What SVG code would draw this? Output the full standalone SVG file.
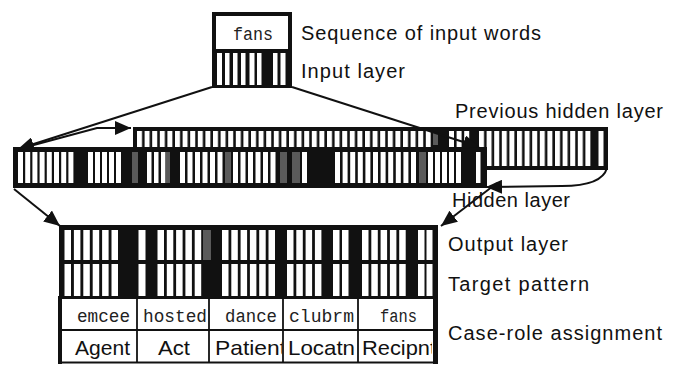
<svg xmlns="http://www.w3.org/2000/svg" width="675" height="366" viewBox="0 0 675 366">
<style>
.lbl{font-family:"Liberation Sans",Arial,sans-serif;font-size:20px;fill:#111}
.mono{font-family:"Liberation Mono","Courier New",monospace;font-size:19px;fill:#222}
.role{font-family:"Liberation Sans",Arial,sans-serif;font-size:21px;fill:#111}
.blk{fill:#111}
.w{fill:#fff}
.g{fill:#5a5a5a}
.conn{fill:none;stroke:#111;stroke-width:2}
.cell{fill:none;stroke:#111;stroke-width:1.8}
</style>
<defs>
<marker id="ah" markerUnits="userSpaceOnUse" markerWidth="18" markerHeight="14" refX="16" refY="7" orient="auto">
<path d="M0,0 L16,7 L0,14 Z" fill="#111"/>
</marker>
<pattern id="pPrev" patternUnits="userSpaceOnUse" x="137" y="0" width="7.6" height="366">
<rect x="0" y="0" width="5" height="366" fill="#fff"/>
</pattern>
<clipPath id="c3"><rect x="209" y="330" width="73" height="33"/></clipPath>
<clipPath id="c5"><rect x="358" y="330" width="74" height="33"/></clipPath>
</defs>

<g id="input">
<rect x="212" y="12" width="80" height="76" class="blk"/>
<rect x="216" y="16" width="72" height="33" class="w"/>
<text x="233" y="40" class="mono" textLength="40" lengthAdjust="spacingAndGlyphs">fans</text>
<rect x="217" y="53" width="5" height="32" class="w"/>
<rect x="225" y="53" width="4.5" height="32" class="w"/>
<rect x="233" y="53" width="4.5" height="32" class="w"/>
<rect x="241" y="53" width="4.5" height="32" class="w"/>
<rect x="249.5" y="53" width="5" height="32" class="w"/>
<rect x="257" y="53" width="4.5" height="32" class="w"/>
<rect x="273" y="53" width="4.5" height="32" class="w"/>
<rect x="280.5" y="53" width="5" height="32" class="w"/>
</g>

<g id="previous-hidden">
<rect x="133" y="127" width="475" height="43" class="blk"/>
<rect x="137" y="131" width="294" height="35" fill="url(#pPrev)"/>
<rect x="449" y="131" width="5" height="35" class="w"/>
<rect x="456.6" y="131" width="5" height="35" class="w"/>
<rect x="464.2" y="131" width="5" height="35" class="w"/>
<rect x="433" y="133" width="5" height="12" class="g"/>
<rect x="479" y="131" width="112" height="35" fill="url(#pPrev)"/>
<rect x="598.5" y="131" width="5" height="35" class="w"/>
</g>

<g id="hidden">
<rect x="13" y="147" width="474" height="41" class="blk"/>
<g class="w">
<rect x="18" y="152" width="5" height="31"/>
<rect x="25.2" y="152" width="5" height="31"/>
<rect x="32.4" y="152" width="5" height="31"/>
<rect x="39.6" y="152" width="5" height="31"/>
<rect x="46.8" y="152" width="5" height="31"/>
<rect x="54" y="152" width="5" height="31"/>
<rect x="61.2" y="152" width="5" height="31"/>
<rect x="68.4" y="152" width="5" height="31"/>
<rect x="88" y="152" width="5" height="31"/>
<rect x="95" y="152" width="5" height="31"/>
<rect x="102" y="152" width="5" height="31"/>
<rect x="109" y="152" width="5" height="31"/>
<rect x="116" y="152" width="5" height="31"/>
<rect x="147" y="152" width="4.5" height="31"/>
<rect x="154" y="152" width="4.5" height="31"/>
<rect x="161" y="152" width="4.5" height="31"/>
<rect x="180" y="152" width="5" height="31"/>
<rect x="187.5" y="152" width="5" height="31"/>
<rect x="195" y="152" width="5" height="31"/>
<rect x="202.5" y="152" width="5" height="31"/>
<rect x="210" y="152" width="5" height="31"/>
<rect x="217.5" y="152" width="5" height="31"/>
<rect x="233" y="152" width="5" height="31"/>
<rect x="240.5" y="152" width="5" height="31"/>
<rect x="248" y="152" width="5" height="31"/>
<rect x="255.5" y="152" width="5" height="31"/>
<rect x="263" y="152" width="5" height="31"/>
<rect x="270.5" y="152" width="5" height="31"/>
<rect x="302" y="152" width="5" height="31"/>
<rect x="335" y="152" width="5" height="31"/>
<rect x="342.6" y="152" width="5" height="31"/>
<rect x="350.2" y="152" width="5" height="31"/>
<rect x="357.8" y="152" width="5" height="31"/>
<rect x="365.4" y="152" width="5" height="31"/>
<rect x="373" y="152" width="5" height="31"/>
<rect x="380.6" y="152" width="5" height="31"/>
<rect x="388.2" y="152" width="5" height="31"/>
<rect x="395.8" y="152" width="5" height="31"/>
<rect x="403.4" y="152" width="5" height="31"/>
<rect x="411" y="152" width="5" height="31"/>
<rect x="428" y="152" width="5" height="31"/>
<rect x="435" y="152" width="5" height="31"/>
<rect x="442" y="152" width="5" height="31"/>
<rect x="449" y="152" width="5" height="31"/>
<rect x="456" y="152" width="5" height="31"/>
<rect x="476" y="152" width="4.5" height="31"/>
</g>
<g class="g">
<rect x="132" y="152" width="6" height="31"/>
<rect x="165.5" y="152" width="4.5" height="31"/>
<rect x="225" y="152" width="6" height="31"/>
<rect x="280" y="152" width="7" height="31"/>
<rect x="292" y="152" width="8" height="31"/>
<rect x="419" y="152" width="7" height="31"/>
</g>
</g>

<g id="output">
<rect x="59" y="225" width="379" height="73" class="blk"/>
<g class="w">
<rect x="64.5" y="230" width="6.5" height="30"/><rect x="64.5" y="264" width="6.5" height="32"/>
<rect x="73.9" y="230" width="6.5" height="30"/><rect x="73.9" y="264" width="6.5" height="32"/>
<rect x="83.3" y="230" width="6.5" height="30"/><rect x="83.3" y="264" width="6.5" height="32"/>
<rect x="92.7" y="230" width="6.5" height="30"/><rect x="92.7" y="264" width="6.5" height="32"/>
<rect x="102.1" y="230" width="6.5" height="30"/><rect x="102.1" y="264" width="6.5" height="32"/>
<rect x="111.5" y="230" width="6.5" height="30"/><rect x="111.5" y="264" width="6.5" height="32"/>
<rect x="138.5" y="230" width="7" height="30"/><rect x="138.5" y="264" width="7" height="32"/>
<rect x="157.5" y="230" width="6.5" height="30"/><rect x="157.5" y="264" width="6.5" height="32"/>
<rect x="166.8" y="230" width="6.5" height="30"/><rect x="166.8" y="264" width="6.5" height="32"/>
<rect x="176.1" y="230" width="6.5" height="30"/><rect x="176.1" y="264" width="6.5" height="32"/>
<rect x="185.4" y="230" width="6.5" height="30"/><rect x="185.4" y="264" width="6.5" height="32"/>
<rect x="194.7" y="230" width="6.5" height="30"/><rect x="194.7" y="264" width="6.5" height="32"/>
<rect x="222" y="230" width="6.5" height="30"/><rect x="222" y="264" width="6.5" height="32"/>
<rect x="231.3" y="230" width="6.5" height="30"/><rect x="231.3" y="264" width="6.5" height="32"/>
<rect x="240.6" y="230" width="6.5" height="30"/><rect x="240.6" y="264" width="6.5" height="32"/>
<rect x="249.9" y="230" width="6.5" height="30"/><rect x="249.9" y="264" width="6.5" height="32"/>
<rect x="259.2" y="230" width="6.5" height="30"/><rect x="259.2" y="264" width="6.5" height="32"/>
<rect x="268.5" y="230" width="6.5" height="30"/><rect x="268.5" y="264" width="6.5" height="32"/>
<rect x="287" y="230" width="6.5" height="30"/><rect x="287" y="264" width="6.5" height="32"/>
<rect x="296.3" y="230" width="6.5" height="30"/><rect x="296.3" y="264" width="6.5" height="32"/>
<rect x="305.6" y="230" width="6.5" height="30"/><rect x="305.6" y="264" width="6.5" height="32"/>
<rect x="314.9" y="230" width="6.5" height="30"/><rect x="314.9" y="264" width="6.5" height="32"/>
<rect x="333" y="230" width="6.5" height="30"/><rect x="333" y="264" width="6.5" height="32"/>
<rect x="342" y="230" width="6.5" height="30"/><rect x="342" y="264" width="6.5" height="32"/>
<rect x="362" y="230" width="6.5" height="30"/><rect x="362" y="264" width="6.5" height="32"/>
<rect x="371.3" y="230" width="6.5" height="30"/><rect x="371.3" y="264" width="6.5" height="32"/>
<rect x="380.6" y="230" width="6.5" height="30"/><rect x="380.6" y="264" width="6.5" height="32"/>
<rect x="389.9" y="230" width="6.5" height="30"/><rect x="389.9" y="264" width="6.5" height="32"/>
<rect x="399.2" y="230" width="6.5" height="30"/><rect x="399.2" y="264" width="6.5" height="32"/>
<rect x="418" y="230" width="6.5" height="30"/><rect x="418" y="264" width="6.5" height="32"/>
<rect x="426.5" y="230" width="6" height="30"/><rect x="426.5" y="264" width="6" height="32"/>
</g>
<rect x="203" y="230" width="8" height="30" class="g"/>
</g>

<g id="case-roles">
<rect x="60.5" y="298" width="374.5" height="64.5" fill="#fff" stroke="#111" stroke-width="2"/>
<rect x="58" y="296" width="4" height="68" class="blk"/>
<rect x="433" y="296" width="5" height="68" class="blk"/>
<line x1="60" y1="330" x2="435" y2="330" class="cell"/>
<line x1="137" y1="298" x2="137" y2="363" class="cell"/>
<line x1="209" y1="298" x2="209" y2="363" class="cell"/>
<line x1="283" y1="298" x2="283" y2="363" class="cell"/>
<line x1="358" y1="298" x2="358" y2="363" class="cell"/>
<text x="77" y="322" class="mono" textLength="53" lengthAdjust="spacingAndGlyphs">emcee</text>
<text x="143" y="322" class="mono" textLength="64" lengthAdjust="spacingAndGlyphs">hosted</text>
<text x="225" y="322" class="mono" textLength="52" lengthAdjust="spacingAndGlyphs">dance</text>
<text x="289" y="322" class="mono" textLength="65" lengthAdjust="spacingAndGlyphs">clubrm</text>
<text x="380" y="322" class="mono" textLength="37" lengthAdjust="spacingAndGlyphs">fans</text>
<text x="75" y="355" class="role" textLength="55" lengthAdjust="spacingAndGlyphs">Agent</text>
<text x="158" y="355" class="role" textLength="32" lengthAdjust="spacingAndGlyphs">Act</text>
<text x="215" y="355" class="role" clip-path="url(#c3)" textLength="71" lengthAdjust="spacingAndGlyphs">Patient</text>
<text x="288" y="355" class="role" textLength="67" lengthAdjust="spacingAndGlyphs">Locatn</text>
<text x="362" y="355" class="role" clip-path="url(#c5)" textLength="74" lengthAdjust="spacingAndGlyphs">Recipnt</text>
</g>

<g id="connectors">
<line x1="212" y1="87" x2="18" y2="149" class="conn" marker-end="url(#ah)"/>
<line x1="292" y1="87" x2="479" y2="147" class="conn" marker-end="url(#ah)"/>
<path d="M30,146 L97,128 L131,128" class="conn" marker-end="url(#ah)"/>
<path d="M607,168 Q602,186 562,186 L486,187" class="conn" marker-end="url(#ah)"/>
<line x1="497" y1="183" x2="441" y2="226" class="conn" marker-end="url(#ah)"/>
<line x1="14" y1="189" x2="60" y2="226" class="conn" marker-end="url(#ah)"/>
</g>

<g id="labels">
<text x="301" y="40" class="lbl" textLength="240" lengthAdjust="spacing">Sequence of input words</text>
<text x="301" y="78" class="lbl" textLength="104" lengthAdjust="spacing">Input layer</text>
<text x="455" y="118" class="lbl" textLength="208" lengthAdjust="spacing">Previous hidden layer</text>
<text x="452" y="207" class="lbl" textLength="118" lengthAdjust="spacing">Hidden layer</text>
<text x="448" y="251" class="lbl" textLength="120" lengthAdjust="spacing">Output layer</text>
<text x="448" y="291" class="lbl" textLength="141" lengthAdjust="spacing">Target pattern</text>
<text x="448" y="340" class="lbl" textLength="214" lengthAdjust="spacing">Case-role assignment</text>
</g>
</svg>
